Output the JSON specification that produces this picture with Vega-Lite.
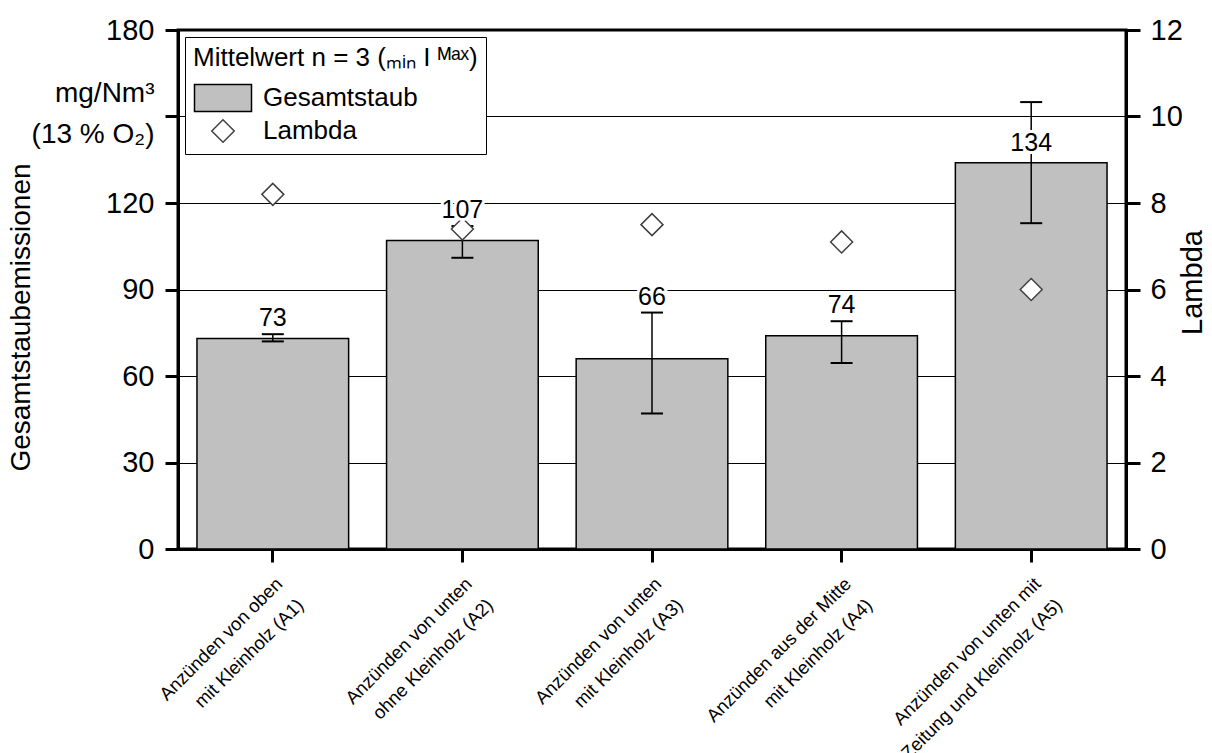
{
  "$schema": "https://vega.github.io/schema/vega-lite/v6.json",
  "width": 948,
  "height": 519,
  "autosize": "none",
  "padding": {"left": 178, "top": 30, "right": 86, "bottom": 204},
  "background": "white",
  "config": {
    "font": "Liberation Sans",
    "view": {"stroke": "black", "strokeWidth": 3},
    "axis": {"labelColor": "black", "titleColor": "black", "domainColor": "black", "tickColor": "black", "titleFontWeight": "normal", "labelFont": "Liberation Sans", "titleFont": "Liberation Sans"},
    "legend": {"symbolStrokeWidth": 1.5, "symbolOpacity": 1}
  },
  "data": {
    "values": [
      {"id": "A1", "cat": "Anzünden von oben|mit Kleinholz (A1)", "mean": 73, "min": 72, "max": 74.5, "lambda": 8.2},
      {"id": "A2", "cat": "Anzünden von unten|ohne Kleinholz (A2)", "mean": 107, "min": 101, "max": 112, "lambda": 7.4},
      {"id": "A3", "cat": "Anzünden von unten|mit Kleinholz (A3)", "mean": 66, "min": 47, "max": 82, "lambda": 7.5},
      {"id": "A4", "cat": "Anzünden aus der Mitte|mit Kleinholz (A4)", "mean": 74, "min": 64.5, "max": 79, "lambda": 7.1},
      {"id": "A5", "cat": "Anzünden von unten mit|Zeitung und Kleinholz (A5)", "mean": 134, "min": 113, "max": 155, "lambda": 6.0}
    ]
  },
  "encoding": {
    "x": {
      "field": "cat", "type": "nominal", "sort": null,
      "scale": {"paddingInner": 0.2, "paddingOuter": 0.1},
      "axis": {"title": null, "labelAngle": -45, "labelAlign": "right", "labelBaseline": "top", "labelExpr": "split(datum.label, '|')", "labelFontSize": 18.5, "labelLineHeight": 30, "labelPadding": 12, "labelLimit": 0, "labelOverlap": false, "tickSize": 13, "tickWidth": 3, "domainWidth": 3}
    }
  },
  "layer": [
    {
      "encoding": {
        "y": {
          "field": "mean", "type": "quantitative",
          "scale": {"domain": [0, 180], "nice": false},
          "axis": {"title": "Gesamtstaubemissionen", "titleAngle": 270, "titleAlign": "center", "titleBaseline": "alphabetic", "titleX": -149, "titleY": 287, "titleFontSize": 28, "values": [0, 30, 60, 90, 120, 150, 180], "labelExpr": "datum.value === 150 ? '' : datum.label", "labelFontSize": 29, "labelPadding": 11, "tickSize": 13, "tickWidth": 3, "domainWidth": 3, "grid": true, "gridColor": "black", "gridWidth": 1, "gridOpacity": 1, "labelFlush": false, "labelOverlap": false}
        }
      },
      "layer": [
        {
          "mark": {"type": "bar", "strokeWidth": 1.5, "opacity": 1},
          "encoding": {
            "color": {
              "datum": "Gesamtstaub", "type": "nominal",
              "scale": {"domain": ["Gesamtstaub", "Lambda"], "range": ["#c0c0c0", "#ffffff"]},
              "legend": {
                "orient": "top-left", "offset": 7, "padding": 8,
                "strokeColor": "black", "fillColor": "white",
                "title": "Mittelwert n = 3 (ₘᵢₙ I ᴹᵃˣ)",
                "titleFontSize": 26, "titleFontWeight": "normal", "titleColor": "black", "titleFont": "Liberation Sans", "titleLimit": 400,
                "labelFontSize": 26, "labelColor": "black", "labelFont": "Liberation Sans", "labelLimit": 400,
                "symbolSize": 900, "symbolOffset": 14, "labelOffset": 24, "rowPadding": -4, "titlePadding": 11
              }
            },
            "stroke": {
              "datum": "Gesamtstaub", "type": "nominal",
              "scale": {"domain": ["Gesamtstaub", "Lambda"], "range": ["#000000", "#404040"]},
              "legend": {"title": "Mittelwert n = 3 (ₘᵢₙ I ᴹᵃˣ)"}
            }
          }
        },
        {
          "mark": {"type": "rule", "color": "black", "strokeWidth": 1.5},
          "encoding": {"y": {"field": "min", "type": "quantitative"}, "y2": {"field": "max"}}
        },
        {
          "mark": {"type": "tick", "color": "black", "size": 22, "thickness": 2, "opacity": 1},
          "encoding": {"y": {"field": "min", "type": "quantitative"}}
        },
        {
          "mark": {"type": "tick", "color": "black", "size": 22, "thickness": 2, "opacity": 1},
          "encoding": {"y": {"field": "max", "type": "quantitative"}}
        }
      ]
    },
    {
      "mark": {"type": "point", "filled": true, "size": 860, "strokeWidth": 1.5, "opacity": 1},
      "encoding": {
        "y": {
          "field": "lambda", "type": "quantitative",
          "scale": {"domain": [0, 12], "nice": false},
          "axis": {"orient": "right", "title": "Lambda", "values": [0, 2, 4, 6, 8, 10, 12], "labelFontSize": 29, "labelPadding": 10, "tickSize": 14, "tickWidth": 3, "domainWidth": 3, "grid": false, "labelFlush": false, "labelOverlap": false, "titleFontSize": 29, "titleAngle": 270, "titleX": 66, "titleY": 252, "titleAlign": "center", "titleBaseline": "middle"}
        },
        "color": {"datum": "Lambda", "type": "nominal"},
        "stroke": {"datum": "Lambda", "type": "nominal"},
        "shape": {
          "datum": "Lambda", "type": "nominal",
          "scale": {"domain": ["Gesamtstaub", "Lambda"], "range": ["M-1.9,-0.9H1.9V0.9H-1.9Z", "M-0.75,0L0,-0.75L0.75,0L0,0.75Z"]},
          "legend": {"title": "Mittelwert n = 3 (ₘᵢₙ I ᴹᵃˣ)"}
        }
      }
    },
    {
      "transform": [{"filter": "datum.id !== 'A5'"}],
      "encoding": {
        "y": {
          "field": "max", "type": "quantitative", "scale": {"domain": [0, 180], "nice": false},
          "axis": {"orient": "left", "title": ["mg/Nm³", "(13 % O₂)"], "titleAngle": 0, "titleAlign": "right", "titleBaseline": "alphabetic", "titleX": -24, "titleY": 71, "titleFontSize": 28, "titleLineHeight": 41, "labels": false, "ticks": false, "domain": false, "grid": false}
        },
        "text": {"field": "mean", "type": "quantitative", "format": ".0f"}
      },
      "layer": [
        {"mark": {"type": "text", "fontSize": 25, "baseline": "middle", "dy": -16, "fill": "white", "stroke": "white", "strokeWidth": 6, "strokeJoin": "round"}},
        {"mark": {"type": "text", "fontSize": 25, "baseline": "middle", "dy": -16, "color": "black"}}
      ]
    },
    {
      "transform": [{"filter": "datum.id === 'A5'"}],
      "encoding": {
        "y": {"field": "mean", "type": "quantitative", "scale": {"domain": [0, 180], "nice": false}, "axis": null},
        "text": {"field": "mean", "type": "quantitative", "format": ".0f"}
      },
      "layer": [
        {"mark": {"type": "text", "fontSize": 25, "baseline": "middle", "dy": -20, "fill": "white", "stroke": "white", "strokeWidth": 6, "strokeJoin": "round"}},
        {"mark": {"type": "text", "fontSize": 25, "baseline": "middle", "dy": -20, "color": "black"}}
      ]
    }
  ],
  "resolve": {"scale": {"y": "independent"}}
}
